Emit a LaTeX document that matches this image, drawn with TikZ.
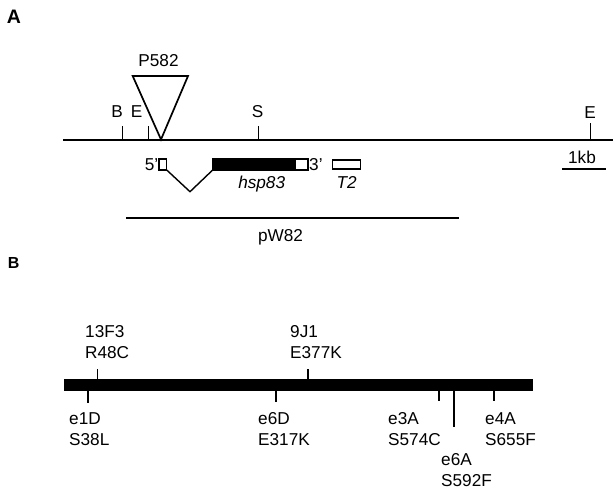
\documentclass[tikz,border=0pt]{standalone}
\usepackage{fontspec}
\setmainfont{Liberation Sans}
\begin{document}
\begin{tikzpicture}[x=1pt,y=-1pt,
  lbl/.style={inner sep=0pt, font=\fontsize{17.2}{20}\selectfont},
  lblc/.style={lbl, anchor=base},
  lblw/.style={lbl, anchor=base west, align=left},
  panel/.style={inner sep=0pt, anchor=base, font=\fontsize{19.5}{22}\selectfont\bfseries},
  axis/.style={line width=1.8pt},
  tick/.style={line width=1.4pt},
  outline/.style={line width=1.7pt},
  clone/.style={line width=2.8pt}]
\useasboundingbox (0,0) rectangle (616,490);

% ---------- Panel A ----------
\node[panel] (pA) at (14,23.3) {A};

% chromosome line
\coordinate (mL) at (63,140);
\coordinate (mR) at (613,140);
\draw[axis] (mL) -- (mR);

% restriction sites
\coordinate (tB) at (122.7,140);
\coordinate (tE1) at (148.7,140);
\coordinate (tS) at (258.7,140);
\coordinate (tE2) at (590.7,140);
\draw[tick] (tB) -- ++(0,-14);
\draw[tick] (tE1) -- ++(0,-14);
\draw[tick] (tS) -- ++(0,-14);
\draw[tick] (tE2) -- ++(0,-17);
\node[lblc] (lB) at (117,117) {B};
\node[lblc] (lE1) at (136.7,117) {E};
\node[lblc] (lS) at (257.7,117.5) {S};
\node[lblc] (lE2) at (590,118) {E};

% P element insertion
\coordinate (pTL) at (132.7,76);
\coordinate (pTR) at (188,76);
\coordinate (pAp) at (161,139.5);
\draw[outline, line join=miter] (pTL) -- (pTR) -- (pAp) -- cycle;
\node[lblc] (lP) at (158.5,66.5) {P582};

% scale bar
\coordinate (sb1) at (562,169);
\coordinate (sb2) at (605.7,169);
\draw[tick] (sb1) -- (sb2);
\node[lblc] (lkb) at (582,163) {1kb};

% hsp83 gene
\draw[tick] (159,159) rectangle (166.7,170);
\coordinate (iS) at (166.7,170);
\coordinate (iM) at (190,191.7);
\coordinate (iE) at (212.7,170);
\draw[tick] (iS) -- (iM) -- (iE);
\fill[black] (212.7,158.5) rectangle (295,170);
\draw[tick] (212.7,158.5) rectangle (295,170);
\draw[tick] (295,159) rectangle (308,170);
\node[lbl, anchor=base east] (l5) at (158.5,170) {5'};
\node[lbl, anchor=base west] (l3) at (309,170) {3'};
\node[lblc] (lhsp) at (261.7,188) {\itshape hsp83};

% T2
\draw[tick] (332.7,160) rectangle (360.7,169);
\node[lblc] (lT2) at (346.7,188) {\itshape T2};

% pW82 clone
\coordinate (c1) at (126,218);
\coordinate (c2) at (459,218);
\draw[clone] (c1) -- (c2);
\node[lblc] (lpW) at (280.5,241.7) {pW82};

% ---------- Panel B ----------
\node[panel, font=\fontsize{16}{18}\selectfont\bfseries] (pB) at (13.7,268) {B};

\fill[black] (64,379) rectangle (533,391);

% ticks above
\draw[tick] (97.7,379) -- (97.7,369);
\draw[tick] (308,379) -- (308,369);
% ticks below
\draw[tick] (88,391) -- (88,403);
\draw[tick] (276,391) -- (276,402);
\draw[tick] (439,391) -- (439,401);
\draw[tick] (454,391) -- (454,427);
\draw[tick] (494,391) -- (494,401);

\node[lblw] (m13F3) at (85,337.5) {13F3};
\node[lblw] (mR48C) at (85,358) {R48C};
\node[lblw] (m9J1) at (290,337.5) {9J1};
\node[lblw] (mE377K) at (290,358) {E377K};

\node[lblw] (me1D) at (69,424.5) {e1D};
\node[lblw] (mS38L) at (69,445) {S38L};
\node[lblw] (me6D) at (258,424.5) {e6D};
\node[lblw] (mE317K) at (258,445) {E317K};
\node[lblw] (me3A) at (388,424.5) {e3A};
\node[lblw] (mS574C) at (388,445) {S574C};
\node[lblw] (me4A) at (485,424.5) {e4A};
\node[lblw] (mS655F) at (485,445) {S655F};
\node[lblw] (me6A) at (441,465) {e6A};
\node[lblw] (mS592F) at (441,486) {S592F};
\end{tikzpicture}
\end{document}
